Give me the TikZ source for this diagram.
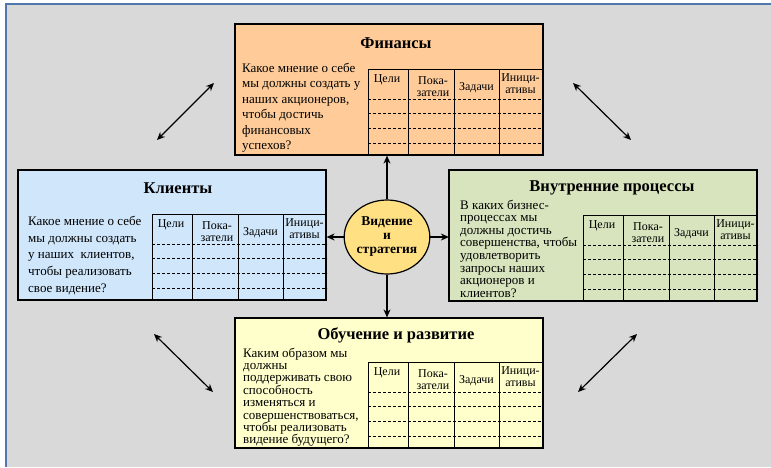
\documentclass[tikz,border=0pt]{standalone}
\usepackage{fontspec}
\setmainfont{Liberation Serif}
\usetikzlibrary{shapes.geometric,arrows.meta}
\definecolor{bg}{HTML}{D9D9D9}
\definecolor{bgline}{HTML}{4F76AD}
\definecolor{fincol}{HTML}{FFCC99}
\definecolor{clicol}{HTML}{CFE6FB}
\definecolor{intcol}{HTML}{D7E4BD}
\definecolor{learncol}{HTML}{FFFFCC}
\definecolor{viscol}{HTML}{FFE083}
\tikzset{
  pane/.style={draw=black, line width=1.2pt, inner sep=0pt},
  ttl/.style={font=\bfseries\fontsize{16.5}{19}\selectfont, inner sep=0pt},
  body/.style={anchor=north west, align=left, inner sep=0pt},
  tline/.style={draw=black, line width=0.9pt},
  dline/.style={draw=black, line width=0.6pt, dash pattern=on 3pt off 2pt},
  hdr/.style={font=\fontsize{12}{11.8}\selectfont, inner sep=0pt, align=center},
  arr/.style={draw=black, line width=1.2pt, {Stealth[length=8pt,width=7pt]}-{Stealth[length=8pt,width=7pt]}},
  oarr/.style={draw=black, line width=1.2pt, -{Stealth[length=8pt,width=7pt]}},
}
\newcommand\bsctable[4]{%
\begin{scope}[shift={(#1,#2)}]
\draw[tline] (0,#3) -- (0,0) -- (175,0);
\foreach \xx in {40,86,131} \draw[tline] (\xx,0) -- (\xx,#3);
\foreach \yy in {30,44.5,59.5,74} \draw[dline] (0,\yy) -- (175,\yy);
\node[hdr] (#4h1) at (19,11) {Цели};
\node[hdr] (#4h2) at (65,17.5) {Пока-\\затели};
\node[hdr] (#4h3) at (108.5,18.5) {Задачи};
\node[hdr] (#4h4) at (152.5,14.5) {Иници-\\ативы};
\end{scope}}
\begin{document}
\begin{tikzpicture}[x=1pt,y=-1pt]
\useasboundingbox (0,0) rectangle (771,467);
\fill[bg] (6,4) rectangle (771,467);
\draw[bgline, line width=1.5pt] (6,467) -- (6,4) -- (771,4);

% boxes
\node[pane, fill=fincol, minimum width=308pt, minimum height=131pt] (fin) at (389,89.5) {};
\node[pane, fill=clicol, minimum width=308pt, minimum height=130pt] (cli) at (172,235) {};
\node[pane, fill=intcol, minimum width=307pt, minimum height=131pt] (int) at (603,235.5) {};
\node[pane, fill=learncol, minimum width=308pt, minimum height=130pt] (lrn) at (389,383) {};

% titles
\node[ttl] (fint) at (396,43) {Финансы};
\node[ttl] (clit) at (178,188) {Клиенты};
\node[ttl] (intt) at (612,188) {Внутренние процессы};
\node[ttl] (lrnt) at (396,335) {Обучение и развитие};

% body texts
\node[body, font=\fontsize{13}{15.4}\selectfont] (finb) at (242,63) {Какое мнение о себе\\мы должны создать у\\наших акционеров,\\чтобы достичь\\финансовых\\успехов?};
\node[body, font=\fontsize{13}{16.7}\selectfont] (clib) at (28,216) {Какое мнение о себе\\мы должны создать\\у наших\ \ клиентов,\\чтобы реализовать\\свое видение?};
\node[body, font=\fontsize{13}{12.6}\selectfont] (intb) at (460,199.5) {В каких бизнес-\\процессах мы\\должны достичь\\совершенства, чтобы\\удовлетворить\\запросы наших\\акционеров и\\клиентов?};
\node[body, font=\fontsize{13}{12.4}\selectfont] (lrnb) at (243,347.5) {Каким образом мы\\должны\\поддерживать свою\\способность\\изменяться и\\совершенствоваться,\\чтобы реализовать\\видение будущего?};

% tables
\bsctable{368}{69}{86}{fin}
\bsctable{152}{214}{86}{cli}
\bsctable{583}{215}{86}{int}
\bsctable{368}{362}{86}{lrn}
\draw[pane, fill=none] (fin.south west) rectangle (fin.north east);
\draw[pane, fill=none] (cli.south west) rectangle (cli.north east);
\draw[pane, fill=none] (int.south west) rectangle (int.north east);
\draw[pane, fill=none] (lrn.south west) rectangle (lrn.north east);

% center
\node[ellipse, draw=black, line width=1.2pt, fill=viscol, minimum width=82pt, minimum height=74pt, inner sep=0pt, align=center, font=\bfseries\fontsize{13.5}{14}\selectfont] (vis) at (387,237) {Видение\\и\\стратегия};

\draw[oarr] (vis.north) -- (vis.north |- fin.south);
\draw[oarr] (vis.south) -- (vis.south |- lrn.north);
\draw[oarr] (vis.west) -- (vis.west -| cli.east);
\draw[oarr] (vis.east) -- (vis.east -| int.west);

% diagonal arrows
\coordinate (a1) at (157,140); \coordinate (b1) at (214,83);
\coordinate (a2) at (573,83); \coordinate (b2) at (631,140);
\coordinate (a3) at (154,334); \coordinate (b3) at (213,392);
\coordinate (a4) at (578,392); \coordinate (b4) at (637,334);
\draw[arr] (a1) -- (b1);
\draw[arr] (a2) -- (b2);
\draw[arr] (a3) -- (b3);
\draw[arr] (a4) -- (b4);
\end{tikzpicture}
\end{document}
